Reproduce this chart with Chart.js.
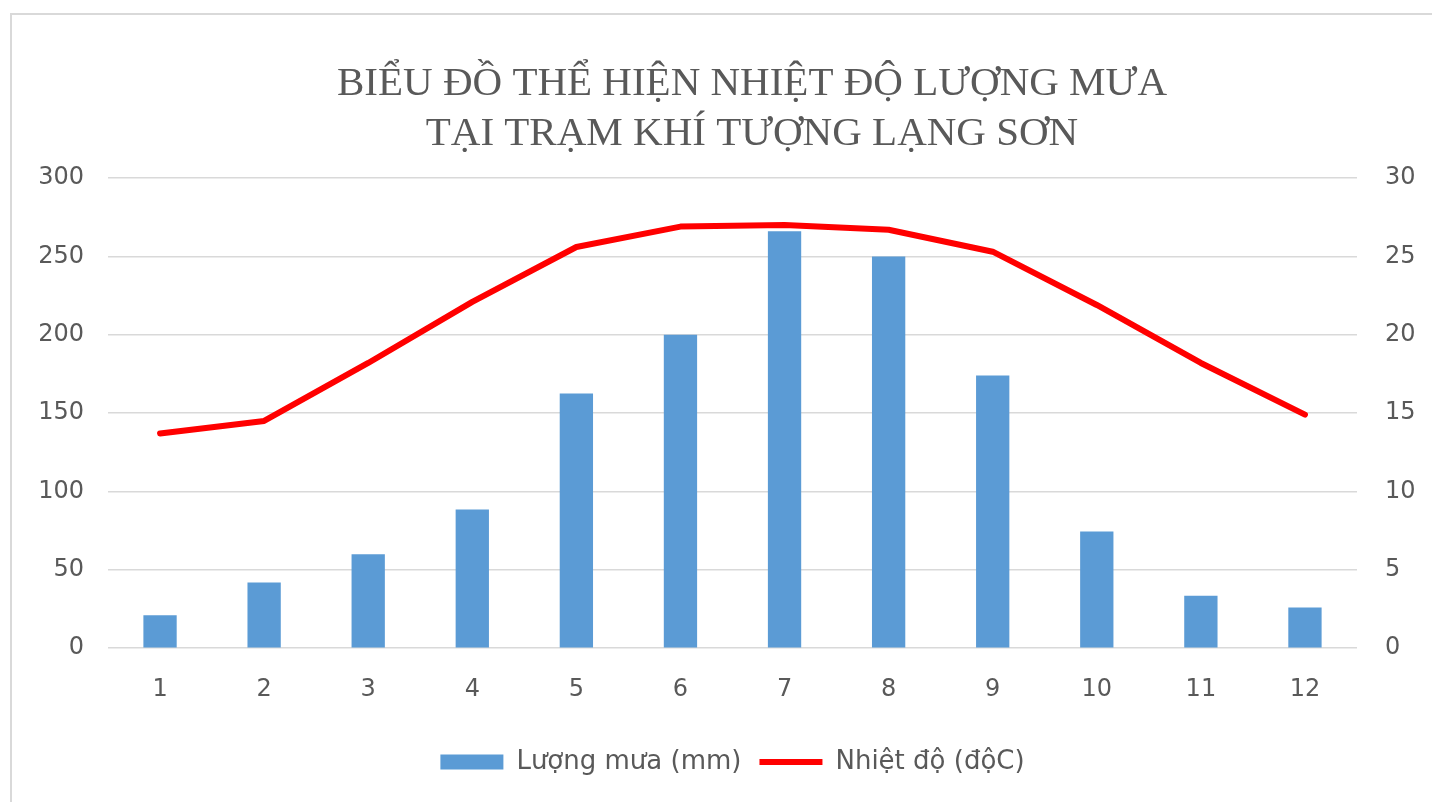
<!DOCTYPE html>
<html>
<head>
<meta charset="utf-8">
<script src="https://cdn.jsdelivr.net/npm/chart.js@4.4.1/dist/chart.umd.min.js"></script>
<style>
    html, body { margin: 0; padding: 0; background: #fff; overflow: hidden; }
    .frame {
        position: absolute;
        left: 10px;
        top: 13px;
        width: 1484px;
        height: 800px;
        border: 2px solid #d9d9d9;
        background: #fff;
    }
    .frame canvas { display: block; }
</style>
</head>
<body>
<div class="frame">
    <canvas id="climateChart" width="1480" height="787"></canvas>
</div>
<script>
const months = ['1', '2', '3', '4', '5', '6', '7', '8', '9', '10', '11', '12'];
const rainfall = [21, 42, 60, 88.5, 162.5, 200, 266, 250, 174, 74.5, 33.5, 26];
const temperature = [13.7, 14.5, 18.2, 22.1, 25.6, 26.9, 27.0, 26.7, 25.3, 21.9, 18.2, 14.9];
const titleLines = ['BIỂU ĐỒ THỂ HIỆN NHIỆT ĐỘ LƯỢNG MƯA', 'TẠI TRẠM KHÍ TƯỢNG LẠNG SƠN'];

const textGray = '#595959';
const sans = "'DejaVu Sans', 'Open Sans', sans-serif";

const ctx = document.getElementById('climateChart').getContext('2d');

new Chart(ctx, {
    data: {
        labels: months,
        datasets: [
            {
                type: 'line',
                label: 'Nhiệt độ (độC)',
                data: temperature,
                yAxisID: 'yTemp',
                borderColor: '#ff0000',
                backgroundColor: '#ff0000',
                borderWidth: 6,
                borderCapStyle: 'round',
                borderJoinStyle: 'round',
                pointRadius: 0,
                pointHoverRadius: 0,
                pointStyle: 'line',
                tension: 0,
                order: 1
            },
            {
                type: 'bar',
                label: 'Lượng mưa (mm)',
                data: rainfall,
                yAxisID: 'yRain',
                backgroundColor: '#5b9bd5',
                borderWidth: 0,
                pointStyle: 'rect',
                barPercentage: 0.64,
                categoryPercentage: 0.5,
                order: 2
            }
        ]
    },
    options: {
        responsive: false,
        animation: false,
        layout: { padding: { left: 0, right: 0, top: 0, bottom: 17 } },
        scales: {
            x: {
                grid: { display: false, drawTicks: false },
                border: { display: false },
                ticks: { color: textGray, font: { family: sans, size: 24 }, padding: 27 }
            },
            yRain: {
                position: 'left',
                min: 0,
                max: 300,
                ticks: { stepSize: 50, color: textGray, font: { family: sans, size: 24 }, padding: 24 },
                grid: { color: '#d9d9d9', lineWidth: 1.5, drawTicks: false },
                border: { display: false },
                afterFit: function(scale) { scale.width = 96; }
            },
            yTemp: {
                position: 'right',
                min: 0,
                max: 30,
                ticks: { stepSize: 5, color: textGray, font: { family: sans, size: 24 }, padding: 28 },
                grid: { display: false, drawTicks: false },
                border: { display: false },
                afterFit: function(scale) { scale.width = 135; }
            }
        },
        plugins: {
            title: {
                display: true,
                text: titleLines,
                color: textGray,
                font: { family: "'Liberation Serif', 'DejaVu Serif', serif", size: 41, weight: 'normal', lineHeight: 1.22 },
                padding: { top: 44, bottom: 19 }
            },
            legend: {
                position: 'bottom',
                fullSize: false,
                reverse: true,
                labels: {
                    color: textGray,
                    font: { family: sans, size: 26 },
                    usePointStyle: true,
                    pointStyleWidth: 63,
                    boxHeight: 15,
                    padding: 18
                }
            },
            tooltip: { enabled: false }
        }
    }
});
</script>
</body>
</html>
